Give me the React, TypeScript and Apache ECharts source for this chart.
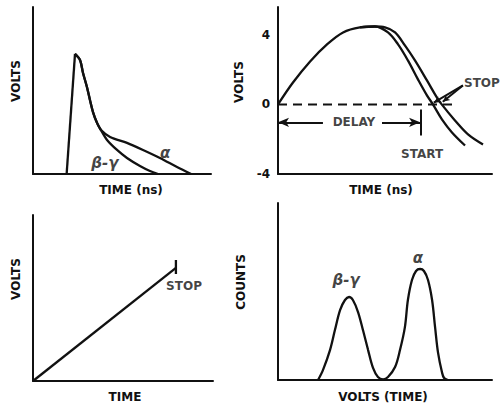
import React, { useEffect, useRef } from "react";
import * as echarts from "echarts";

// ---------- Panel 1: pulse shapes (normalised time 0..100, volts 0..100)
const p1Rise = [[18.9, 0], [23.6, 71.9]];
const p1Decay = [[23.6, 71.9], [26.4, 68.3], [28.1, 60.5], [30.3, 52.1], [32.0, 44.3], [33.7, 37.1], [36.0, 30.5], [38.2, 26.3]];
const p1AlphaTail = [[43.3, 22.2], [52.8, 18.6], [61.8, 14.4], [71.3, 9.6], [80.9, 4.2], [88.8, 0]];
const p1BetaTail = [[41.6, 20.4], [47.2, 14.4], [52.8, 9.6], [60.1, 4.8], [65.7, 1.8], [70.2, 0]];

// ---------- Panel 2: delayed pulses (time 0..100, volts -4..5.6)
const p2Ticks = [-4, 0, 4];
const p2Curve1 = [[0, 0], [7.0, 1.26], [15.0, 2.47], [22.9, 3.45], [30.4, 4.14], [38.3, 4.43], [45.3, 4.48], [51.4, 4.14], [56.1, 3.45], [60.7, 2.53], [65.4, 1.44], [69.6, 0.52], [72.4, 0], [76.6, -0.86], [81.3, -1.61], [87.4, -2.36]];
const p2Curve2 = [[38.3, 4.43], [45.3, 4.48], [50.0, 4.43], [54.7, 4.14], [59.3, 3.39], [64.0, 2.53], [69.6, 1.38], [74.0, 0.45], [76.5, 0], [82.7, -0.92], [88.8, -1.72], [95.8, -2.3]];
const p2ZeroLine = [[0, 0], [81.3, 0]];

// ---------- Panel 3: ramp (time 0..100, volts 0..100)
const p3Ramp = [[0, 0], [79.4, 68.1]];
const p3StopTick = [[79.4, 64.5], [79.4, 72.9]];

// ---------- Panel 4: pulse-height spectrum (volts 0..100, counts 0..100)
const p4Spectrum = [[18.7, 0], [21.0, 5.6], [24.3, 16.9], [26.6, 28.2], [29.0, 39.5], [31.3, 45.2], [33.2, 46.9], [35.0, 45.2], [37.4, 38.4], [39.7, 28.2], [42.1, 16.9], [44.4, 6.8], [46.7, 1.7], [49.1, 0.4], [51.4, 1.7], [54.7, 7.3], [57.0, 16.9], [59.3, 29.9], [60.7, 45.2], [62.6, 56.5], [64.5, 61.6], [66.4, 62.7], [68.2, 61.6], [70.1, 56.5], [72.0, 45.2], [73.4, 29.9], [74.8, 15.3], [76.6, 4.5], [77.6, 1.1], [79.4, 0]];

// ---------- Annotation texts
const p1Labels = [{ text: "β-γ", x: 40.4, y: 6.6 }, { text: "α", x: 74.2, y: 12.6 }];
const p2Labels = [{ text: "DELAY", x: 35.5, y: -1.03 }, { text: "START", x: 67.3, y: -2.87 }, { text: "STOP", x: 95.3, y: 1.21 }];
const p3Labels = [{ text: "STOP", x: 83.9, y: 57.2 }];
const p4Labels = [{ text: "β-γ", x: 31.8, y: 56.5 }, { text: "α", x: 65.4, y: 68.9 }];

const INK = "#111";
const FONT = "DejaVu Sans";

export default function App() {
  const ref = useRef<HTMLDivElement>(null);
  useEffect(() => {
    if (!ref.current) return;
    const chart = echarts.init(ref.current, undefined, { renderer: "svg" });
    const axisLine = { show: true, onZero: false, lineStyle: { color: INK, width: 2 } };
    const nameStyle = (pad: number[]) => ({ fontFamily: FONT, fontWeight: "bold", fontSize: 12, color: INK, padding: pad });
    const xAx = (gi: number, name: string, gap: number, pad: number[]) => ({
      type: "value", gridIndex: gi, min: 0, max: 100, name, nameLocation: "middle", nameGap: gap,
      nameTextStyle: nameStyle(pad), axisLine, axisTick: { show: false }, axisLabel: { show: false }, splitLine: { show: false },
    });
    const yAx = (gi: number, name: string, gap: number, pad: number[], extra: any = {}) => ({
      type: "value", gridIndex: gi, min: 0, max: 100, name, nameLocation: "middle", nameGap: gap,
      nameTextStyle: nameStyle(pad), axisLine, axisTick: { show: false }, axisLabel: { show: false }, splitLine: { show: false },
      ...extra,
    });
    const curve = (gi: number, data: number[][], smooth: number | boolean, extra: any = {}) => ({
      type: "line", xAxisIndex: gi, yAxisIndex: gi, data, smooth, symbol: "none", silent: true,
      lineStyle: { color: INK, width: 2.3 }, ...extra,
    });
    const labels = (gi: number, items: { text: string; x: number; y: number }[], greek: boolean) => ({
      type: "scatter", xAxisIndex: gi, yAxisIndex: gi, symbolSize: 1, silent: true,
      itemStyle: { color: "transparent" },
      data: items.map((l) => ({ name: l.text, value: [l.x, l.y] })),
      label: {
        show: true, position: "inside", formatter: "{b}", color: INK,
        fontFamily: FONT, fontWeight: "bold", fontSize: greek ? 15 : 12, fontStyle: greek ? "italic" : "normal",
      },
    });
    const arrowLine = { color: INK, width: 2, type: "solid" };
    chart.setOption({
      animation: false,
      grid: [
        { left: 33, top: 7, width: 178, height: 167 },
        { left: 278, top: 7, width: 214, height: 167 },
        { left: 33, top: 215, width: 180, height: 166 },
        { left: 278, top: 203, width: 214, height: 177 },
      ],
      xAxis: [
        xAx(0, "TIME (ns)", 10, [0, 0, 0, 18]),
        xAx(1, "TIME (ns)", 10, [0, 8, 0, 0]),
        xAx(2, "TIME", 10, [0, 0, 0, 4]),
        xAx(3, "VOLTS (TIME)", 11, [0, 4, 0, 0]),
      ],
      yAxis: [
        yAx(0, "VOLTS", 11, [0, 0, 0, 19]),
        yAx(1, "VOLTS", 33, [0, 0, 0, 17], {
          min: -4, max: 5.6, interval: 4,
          axisLabel: {
            show: true, margin: 8, color: INK, fontFamily: FONT, fontWeight: "bold", fontSize: 12,
            formatter: (v: number) => (p2Ticks.includes(v) ? String(v) : ""),
          },
        }),
        yAx(2, "VOLTS", 11, [0, 0, 0, 38]),
        yAx(3, "COUNTS", 31, [0, 0, 0, 19]),
      ],
      series: [
        curve(0, p1Rise, false),
        curve(0, [...p1Decay, ...p1AlphaTail], 0.3),
        curve(0, [...p1Decay, ...p1BetaTail], 0.3),
        labels(0, p1Labels, true),
        curve(1, p2Curve1, 0.35),
        curve(1, p2Curve2, 0.35),
        curve(1, p2ZeroLine, false, {
          lineStyle: { color: INK, width: 2, type: [9, 6] },
          markLine: {
            silent: true, animation: false, label: { show: false }, lineStyle: arrowLine,
            data: [
              [{ coord: [21.0, -1.03], symbol: "none" }, { coord: [0, -1.03], symbol: "arrow", symbolSize: [7, 11] }],
              [{ coord: [48.6, -1.03], symbol: "none" }, { coord: [66.4, -1.03], symbol: "arrow", symbolSize: [7, 11] }],
              [{ coord: [66.8, -0.29], symbol: "none" }, { coord: [66.8, -1.78], symbol: "none" }],
              [{ coord: [86.4, 1.09], symbol: "none" }, { coord: [72.8, 0.1], symbol: "arrow", symbolSize: [5, 7] }],
              [{ coord: [86.4, 1.09], symbol: "none" }, { coord: [77.0, 0.15], symbol: "arrow", symbolSize: [5, 7] }],
            ],
          },
        }),
        labels(1, p2Labels, false),
        curve(2, p3Ramp, false),
        curve(2, p3StopTick, false),
        labels(2, p3Labels, false),
        curve(3, p4Spectrum, 0.35),
        labels(3, p4Labels, true),
      ],
    });
    return () => chart.dispose();
  }, []);
  return (
    <div
      ref={ref}
      style={{ position: "fixed", left: 0, top: 0, width: 500, height: 407, background: "#fff" }}
    />
  );
}
